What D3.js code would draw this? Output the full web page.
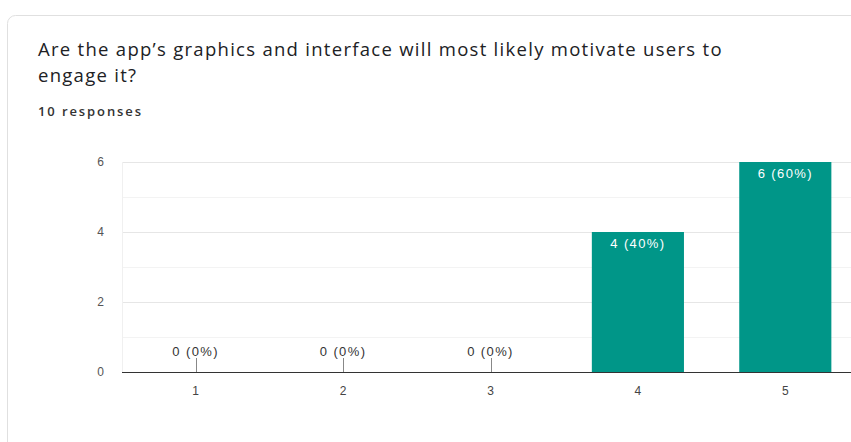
<!DOCTYPE html>
<html>
<head>
<meta charset="utf-8">
<script src="https://cdn.jsdelivr.net/npm/d3@7"></script>
<style>
  body { margin: 0; background: #fff; }
  svg { display: block; }
</style>
</head>
<body>
<div id="chart"></div>
<script>
  const categories = ["1", "2", "3", "4", "5"];
  const counts = [0, 0, 0, 4, 6];
  const percents = ["0%", "0%", "0%", "40%", "60%"];
  const yTicks = [0, 2, 4, 6];
  const titleLines = ["Are the app\u2019s graphics and interface will most likely motivate users to", "engage it?"];
  const subtitle = "10 responses";

  const width = 851;
  const height = 442;
  const margin = { top: 162, left: 122, bottom: 70, right: -8 };

  const svg = d3.select("#chart").append("svg")
    .attr("width", width)
    .attr("height", height);

  // card outline
  svg.append("rect")
    .attr("x", 7.5).attr("y", 15.5)
    .attr("width", 900).attr("height", 500)
    .attr("rx", 8)
    .style("fill", "#fff")
    .style("stroke", "#e0e0e0");

  svg.selectAll(".title").data(titleLines).enter()
    .append("text")
    .attr("x", 38)
    .attr("y", (d, i) => 56 + i * 26)
    .style("font", "18.5px 'Open Sans', Arial, sans-serif")
    .style("letter-spacing", "1.28px")
    .style("fill", "#202124")
    .text(d => d);

  svg.append("text")
    .attr("x", 38).attr("y", 116)
    .style("font", "600 13px 'Open Sans', Arial, sans-serif")
    .style("letter-spacing", "1.9px")
    .style("fill", "#333")
    .text(subtitle);

  const x = d3.scaleBand()
    .domain(categories)
    .range([margin.left, width - margin.right])
    .paddingInner(0.375)
    .paddingOuter(0.1875);

  const y = d3.scaleLinear()
    .domain([0, 6])
    .range([height - margin.bottom, margin.top]);

  // gridlines (major + minor)
  svg.append("g").selectAll("line")
    .data(d3.range(1, 7))
    .enter().append("line")
    .attr("x1", margin.left).attr("x2", width)
    .attr("y1", d => Math.round(y(d)) + 0.5)
    .attr("y2", d => Math.round(y(d)) + 0.5)
    .style("stroke", d => d % 2 === 0 ? "#e6e6e6" : "#f3f3f3");

  svg.append("line")
    .attr("x1", margin.left + 0.5).attr("x2", margin.left + 0.5)
    .attr("y1", y(6)).attr("y2", y(0))
    .style("stroke", "#f0f0f0");

  // y labels
  svg.append("g").selectAll("text")
    .data(yTicks).enter().append("text")
    .attr("x", 104)
    .attr("y", d => y(d) + 4)
    .style("text-anchor", "end")
    .style("font", "12px Arial, 'Liberation Sans', sans-serif")
    .style("fill", "#555")
    .text(d => d);

  const data = categories.map((c, i) => ({ cat: c, value: counts[i], pct: percents[i] }));

  svg.selectAll(".bar").data(data).enter()
    .append("rect")
    .attr("x", d => x(d.cat))
    .attr("y", d => y(d.value))
    .attr("width", x.bandwidth())
    .attr("height", d => y(0) - y(d.value))
    .style("fill", "#009688");

  // axis line
  svg.append("line")
    .attr("x1", margin.left).attr("x2", width)
    .attr("y1", y(0) + 0.5).attr("y2", y(0) + 0.5)
    .style("stroke", "#333");

  // x tick labels
  svg.selectAll(".xlab").data(categories).enter()
    .append("text")
    .attr("x", d => x(d) + x.bandwidth() / 2)
    .attr("y", y(0) + 23)
    .style("text-anchor", "middle")
    .style("font", "12px Arial, 'Liberation Sans', sans-serif")
    .style("fill", "#444")
    .text(d => d);

  // value labels
  const cx = d => x(d.cat) + x.bandwidth() / 2;
  svg.selectAll(".stem").data(data.filter(d => d.value === 0)).enter()
    .append("line")
    .attr("x1", d => Math.round(cx(d)) + 0.5).attr("x2", d => Math.round(cx(d)) + 0.5)
    .attr("y1", y(0) - 14).attr("y2", y(0))
    .style("stroke", "#888");

  svg.selectAll(".vlab").data(data).enter()
    .append("text")
    .attr("x", cx)
    .attr("y", d => d.value === 0 ? y(0) - 16 : y(d.value) + 16)
    .style("text-anchor", "middle")
    .style("font", "13px Arial, 'Liberation Sans', sans-serif")
    .style("letter-spacing", "1.4px")
    .style("fill", d => d.value === 0 ? "#333" : "#fff")
    .text(d => d.value + " (" + d.pct + ")");
</script>
</body>
</html>
